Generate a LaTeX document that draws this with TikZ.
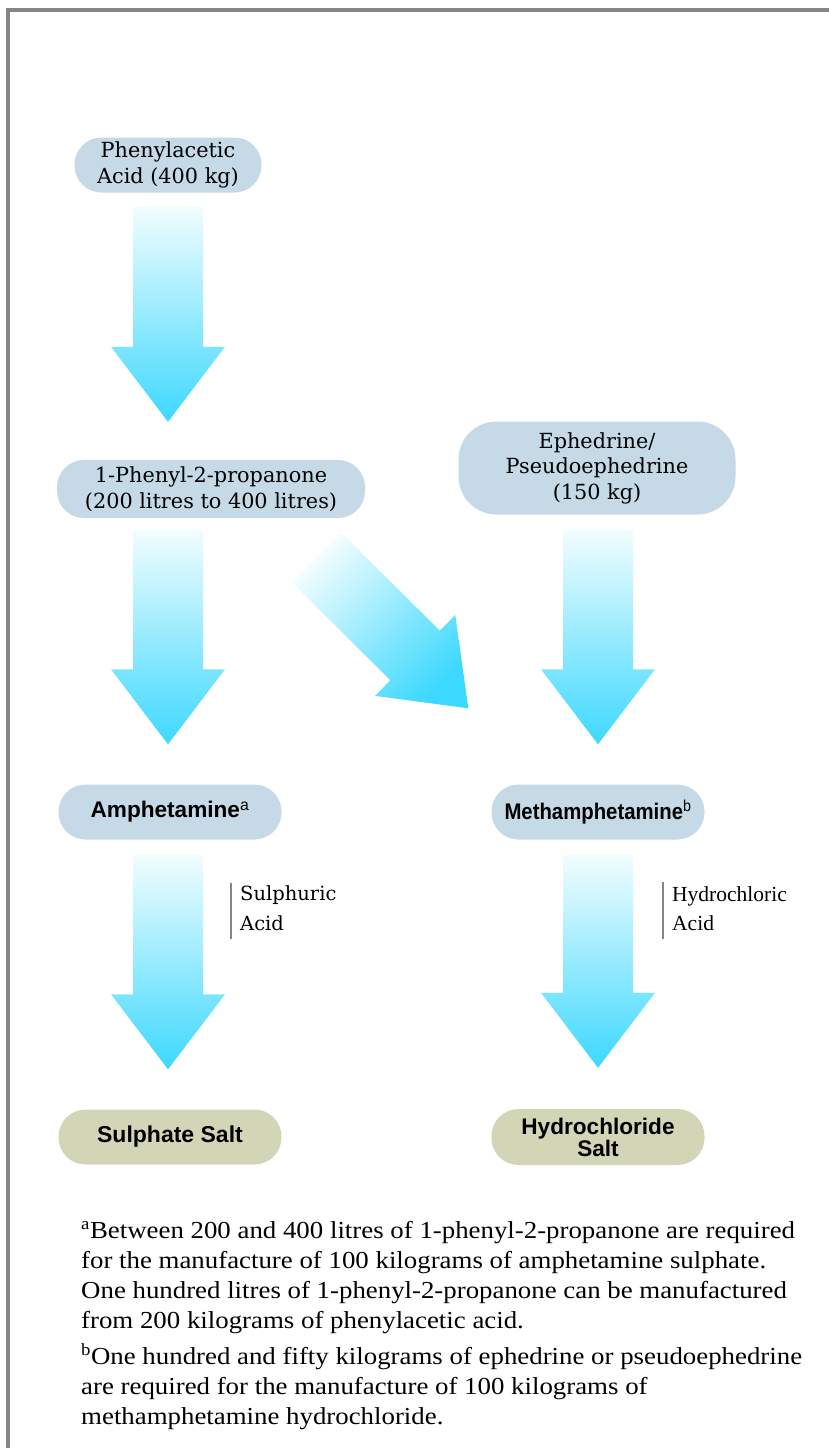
\documentclass[tikz,border=0pt]{standalone}
\usepackage{fontspec}
\setmainfont{DejaVu Serif}
\newfontfamily\timesfont{Liberation Serif}
\newfontfamily\notefont[FakeStretch=1.1]{Liberation Serif}
\newfontfamily\boldsans{Liberation Sans}
\newfontfamily\tightsans[FakeStretch=0.9]{Liberation Sans}
\usetikzlibrary{calc,positioning}

\definecolor{pillblue}{HTML}{C5D9E6}
\definecolor{saltkhaki}{HTML}{D3D5B7}
\definecolor{arrowtop}{HTML}{F2FDFF}
\definecolor{arrowbot}{HTML}{3DD8FF}
\definecolor{framegray}{HTML}{858585}

\tikzset{
  pill/.style={fill=pillblue, rounded corners=27pt, minimum height=55pt, inner sep=0pt,
    align=center, font=\fontsize{20.8}{25.5}\selectfont},
  drug/.style={pill, font=\boldsans\bfseries\fontsize{22.6}{18}\selectfont},
  salt/.style={drug, fill=saltkhaki},
  acidlabel/.style={anchor=north west, inner sep=0pt, align=left},
  acidbar/.style={draw=framegray, line width=1.6pt},
  footnote/.style={anchor=north west, inner sep=0pt, align=left,
    font=\notefont\fontsize{24.4}{30}\selectfont}
}

% big shaded arrow: [shading options]{start}{tip}
\newcommand\blockarrow[3][]{%
  \path (#2) coordinate (ba-a) (#3) coordinate (ba-b)
    ($(ba-b)!75pt!(ba-a)$) coordinate (ba-h);
  \shade[top color=arrowtop, bottom color=arrowbot, #1]
    ($(ba-a)!35pt!90:(ba-b)$) -- ($(ba-h)!35pt!90:(ba-b)$) -- ($(ba-h)!57pt!90:(ba-b)$)
    -- (ba-b) -- ($(ba-h)!57pt!-90:(ba-b)$) -- ($(ba-h)!35pt!-90:(ba-b)$)
    -- ($(ba-a)!35pt!-90:(ba-b)$) -- cycle;
}

\begin{document}
\begin{tikzpicture}[x=1pt, y=-1pt]
  \useasboundingbox (0,0) rectangle (829,1448);
  \draw[framegray, line width=4pt] (8,1448) -- (8,10) -- (829,10);

  % sources and intermediate
  \node[pill, minimum width=187pt] (phen) at (168,165) {Phenylacetic\\Acid (400 kg)};
  \node[pill, minimum width=308pt, minimum height=58pt] (ppn) at (211,489)
    {1-Phenyl-2-propanone\\(200 litres to 400 litres)};
  \node[pill, minimum width=277pt, minimum height=93pt, rounded corners=38pt] (eph) at (597,468)
    {Ephedrine/\\Pseudoephedrine\\(150 kg)};

  % products
  \node[drug, minimum width=223pt] (amph) at (170,812) {Amphetamine\textsuperscript{\mdseries a}};
  \node[drug, minimum width=213pt, font=\tightsans\bfseries\fontsize{22.6}{18}\selectfont] (meth) at (598,812)
    {Methamphetamine\textsuperscript{\mdseries b}};
  \node[salt, minimum width=223pt, font=\boldsans\bfseries\fontsize{23}{18}\selectfont] (sulph) at (170,1137)
    {Sulphate Salt};
  \node[salt, minimum width=213pt, minimum height=56pt] (hydro) at (598,1137) {Hydrochloride\\Salt};

  % arrows
  \blockarrow{$(phen.south)+(0,14)$}{$(phen.south |- ppn.north)+(0,-38)$}
  \blockarrow{$(amph.north |- ppn.south)+(-2,12)$}{$(amph.north)+(-2,-40)$}
  \blockarrow{$(meth.north |- eph.south)+(0,15)$}{$(meth.north)+(0,-40)$}
  \blockarrow[shading angle=45]{$(ppn.south east)+(-49,39)$}{$(meth.north west)+(-23,-76)$}
  \blockarrow{$(amph.south)+(-2,15)$}{$(amph.south |- sulph.north)+(-2,-40)$}
  \blockarrow{$(meth.south)+(0,15)$}{$(meth.south |- hydro.north)+(0,-41)$}

  % reagents
  \node[acidlabel, font=\fontsize{19.5}{30}\selectfont] (sulf) at (240,885) {Sulphuric\\Acid};
  \draw[acidbar] ($(sulf.north west)+(-9,-2)$) -- ($(sulf.south west)+(-9,8)$);
  \node[acidlabel, font=\timesfont\fontsize{21.5}{29}\selectfont] (hcl) at (672,886) {Hydrochloric\\Acid};
  \draw[acidbar] ($(hcl.north west)+(-9,-4)$) -- ($(hcl.south west)+(-9,8)$);

  % notes
  \node[footnote] (fna) at (81,1221)
    {\textsuperscript{a}Between 200 and 400 litres of 1-phenyl-2-propanone are required\\
     for the manufacture of 100 kilograms of amphetamine sulphate.\\
     One hundred litres of 1-phenyl-2-propanone can be manufactured\\
     from 200 kilograms of phenylacetic acid.};
  \node[footnote, below=10pt of fna.south west, anchor=north west] (fnb)
    {\textsuperscript{b}One hundred and fifty kilograms of ephedrine or pseudoephedrine\\
     are required for the manufacture of 100 kilograms of\\
     methamphetamine hydrochloride.};
\end{tikzpicture}
\end{document}
